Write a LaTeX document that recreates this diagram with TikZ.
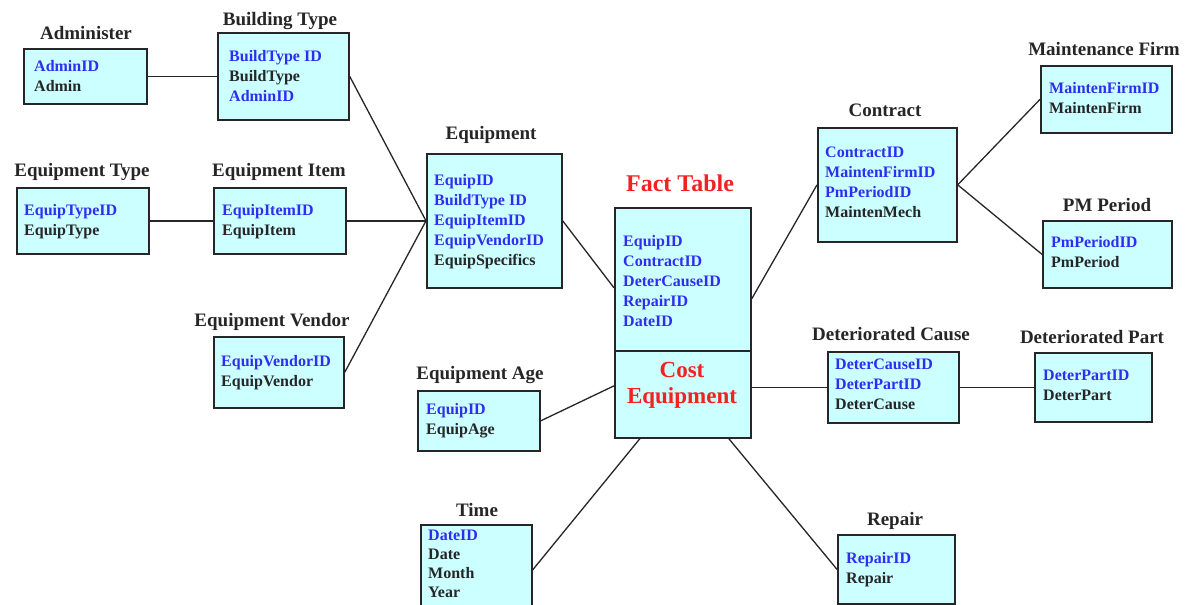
\documentclass[tikz,border=0pt]{standalone}
\usepackage{fontspec}
\setmainfont{Liberation Serif}
\definecolor{tblfill}{HTML}{CCFFFF}
\definecolor{keyblue}{HTML}{2E2EF0}
\definecolor{factred}{HTML}{F52020}
\definecolor{inkgray}{HTML}{262626}
\newcommand\keyf[1]{\textcolor{keyblue}{#1}}

\begin{document}
\begin{tikzpicture}[x=1pt,y=-1pt,
  tbl/.style={draw=inkgray, line width=1.7pt, fill=tblfill, inner sep=0pt, anchor=north west},
  ttl/.style={anchor=base, inner sep=0pt, text=inkgray,
              font=\fontsize{19}{22}\selectfont\bfseries},
  flds/.style={anchor=north west, align=left, inner sep=0pt, text=inkgray,
               font=\fontsize{16}{20}\selectfont\bfseries},
  link/.style={draw=inkgray, line width=1.3pt}]

\fill[white] (0,0) rectangle (1192,605);
\clip (0,0) rectangle (1192,605);

% ---- table boxes ----
\node[tbl, minimum width=123pt, minimum height=55pt]  (admin)    at (23,48)   {};
\node[tbl, minimum width=131pt, minimum height=87pt]  (bt)       at (217,32)  {};
\node[tbl, minimum width=132pt, minimum height=66pt]  (etype)    at (16,187)  {};
\node[tbl, minimum width=132pt, minimum height=66pt]  (eitem)    at (213,187) {};
\node[tbl, minimum width=130pt, minimum height=71pt]  (ev)       at (213,336) {};
\node[tbl, minimum width=135pt, minimum height=134pt] (eq)       at (426,153) {};
\node[tbl, minimum width=136pt, minimum height=143pt] (factTop)  at (614,207) {};
\node[tbl, minimum width=136pt, minimum height=87pt]  (factBot)  at (614,350) {};
\node[tbl, minimum width=139pt, minimum height=114pt] (contract) at (817,127) {};
\node[tbl, minimum width=131pt, minimum height=67pt]  (mf)       at (1040,65) {};
\node[tbl, minimum width=129pt, minimum height=67pt]  (pm)       at (1042,220) {};
\node[tbl, minimum width=131pt, minimum height=71pt]  (dc)       at (827,351) {};
\node[tbl, minimum width=117pt, minimum height=69pt]  (dp)       at (1034,352) {};
\node[tbl, minimum width=117pt, minimum height=69pt]  (repair)   at (837,534) {};
\node[tbl, minimum width=122pt, minimum height=60pt]  (ea)       at (417,390) {};
\node[tbl, minimum width=111pt, minimum height=90pt]  (time)     at (420,524) {};

% ---- table titles ----
\node[ttl] (t-admin)    at (86,39.5)   {Administer};
\node[ttl] (t-bt)       at (280,25.5)  {Building Type};
\node[ttl] (t-etype)    at (82,176.5)  {Equipment Type};
\node[ttl] (t-eitem)    at (279,176.5) {Equipment Item};
\node[ttl] (t-ev)       at (272,326.5) {Equipment Vendor};
\node[ttl] (t-eq)       at (491,139.5) {Equipment};
\node[ttl] (t-contract) at (885,116.5) {Contract};
\node[ttl] (t-mf)       at (1104,55.5) {Maintenance Firm};
\node[ttl] (t-pm)       at (1107,211.5) {PM Period};
\node[ttl] (t-dc)       at (891,340.5) {Deteriorated Cause};
\node[ttl] (t-dp)       at (1092,343.5) {Deteriorated Part};
\node[ttl] (t-repair)   at (895,525.5) {Repair};
\node[ttl] (t-ea)       at (480,379.5) {Equipment Age};
\node[ttl] (t-time)     at (477,516.5) {Time};
\node[ttl, text=factred, font=\fontsize{24}{28}\selectfont\bfseries] (t-fact) at (680,191) {Fact Table};
\node[anchor=north, align=center, inner sep=0pt, text=factred,
      font=\fontsize{23}{26}\selectfont\bfseries] (t-cost) at (682,362) {Cost\\Equipment};

% ---- field lists ----
\node[flds] (f-admin)    at (34,60)    {\keyf{AdminID}\\Admin};
\node[flds] (f-bt)       at (229,50)   {\keyf{BuildType ID}\\BuildType\\\keyf{AdminID}};
\node[flds] (f-etype)    at (24,204)   {\keyf{EquipTypeID}\\EquipType};
\node[flds] (f-eitem)    at (222,204)  {\keyf{EquipItemID}\\EquipItem};
\node[flds] (f-ev)       at (221,355)  {\keyf{EquipVendorID}\\EquipVendor};
\node[flds] (f-eq)       at (434,174)  {\keyf{EquipID}\\\keyf{BuildType ID}\\\keyf{EquipItemID}\\\keyf{EquipVendorID}\\EquipSpecifics};
\node[flds] (f-fact)     at (623,235)  {\keyf{EquipID}\\\keyf{ContractID}\\\keyf{DeterCauseID}\\\keyf{RepairID}\\\keyf{DateID}};
\node[flds] (f-contract) at (825,147)  {\keyf{ContractID}\\\keyf{MaintenFirmID}\\\keyf{PmPeriodID}\\MaintenMech};
\node[flds] (f-mf)       at (1049,82)  {\keyf{MaintenFirmID}\\MaintenFirm};
\node[flds] (f-pm)       at (1051,236) {\keyf{PmPeriodID}\\PmPeriod};
\node[flds] (f-dc)       at (835,359)  {\keyf{DeterCauseID}\\\keyf{DeterPartID}\\DeterCause};
\node[flds] (f-dp)       at (1043,370) {\keyf{DeterPartID}\\DeterPart};
\node[flds] (f-repair)   at (846,552)  {\keyf{RepairID}\\Repair};
\node[flds] (f-ea)       at (426,403)  {\keyf{EquipID}\\EquipAge};
\node[flds, font=\fontsize{16}{19}\selectfont\bfseries] (f-time) at (428,530) {\keyf{DateID}\\Date\\Month\\Year};

% ---- connectors ----
\draw[link] (admin.east) -- (bt.west);
\draw[link] (bt.east) -- (eq.west);
\draw[link] (etype.east) -- (eitem.west);
\draw[link] (eitem.east) -- (eq.west);
\draw[link] (ev.east) -- (eq.west);
\draw[link] (eq.east) -- ([yshift=-8.5pt]factTop.west);
\draw[link] ([yshift=-19.5pt]factTop.east) -- (contract.west);
\draw[link] (contract.east) -- (mf.west);
\draw[link] (contract.east) -- (pm.west);
\draw[link] (dc.west -| factBot.east) -- (dc.west);
\draw[link] (dc.east) -- (dp.west);
\draw[link] (ea.east) -- ([yshift=8.5pt]factBot.west);
\draw[link] (time.east) -- ([xshift=-43pt]factBot.south);
\draw[link] ([xshift=46pt]factBot.south) -- (repair.west);
\end{tikzpicture}
\end{document}
